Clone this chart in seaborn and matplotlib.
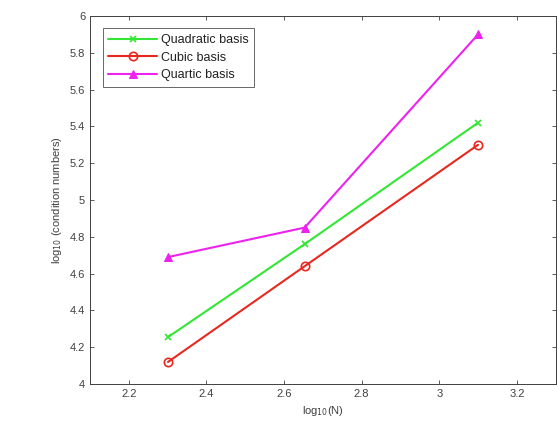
import matplotlib
matplotlib.use("Agg")
import matplotlib.pyplot as plt
import seaborn as sns
import pandas as pd

log_n = [2.301, 2.653, 3.100]
quadratic = [4.255, 4.76, 5.42]
cubic = [4.12, 4.64, 5.30]
quartic = [4.69, 4.85, 5.90]
series_names = ["Quadratic basis", "Cubic basis", "Quartic basis"]

sns.set_theme(style="white")
plt.rcParams['font.family'] = ['Liberation Sans', 'DejaVu Sans']

fig = plt.figure(figsize=(5.57, 4.32), dpi=100)
ax = fig.add_axes([0.1616, 0.111, 0.836, 0.852])

colors = ["#33e633", "#e8281e", "#ee22ee"]
markers = ["x", "o", "^"]
for name, vals, c, m in zip(series_names, [quadratic, cubic, quartic], colors, markers):
    df = pd.DataFrame({"x": log_n, "y": vals})
    kw = dict(marker=m, markersize=6, color=c, linewidth=1.5, label=name)
    if m == "o":
        kw.update(markerfacecolor="none", markeredgecolor=c, markeredgewidth=1.2)
    elif m == "x":
        kw.update(markeredgecolor=c, markeredgewidth=1.2, markersize=5)
    else:
        kw.update(markerfacecolor=c, markeredgecolor=c)
    sns.lineplot(data=df, x="x", y="y", ax=ax, **kw)

ax.set_xlim(2.1, 3.3)
ax.set_ylim(4, 6)
ax.set_xticks([2.2, 2.4, 2.6, 2.8, 3.0, 3.2])
ax.set_xticklabels(["2.2", "2.4", "2.6", "2.8", "3", "3.2"])
ax.set_yticks([4, 4.2, 4.4, 4.6, 4.8, 5, 5.2, 5.4, 5.6, 5.8, 6])
ax.set_yticklabels(["4", "4.2", "4.4", "4.6", "4.8", "5", "5.2", "5.4", "5.6", "5.8", "6"])
ax.tick_params(direction="in", length=3, labelsize=8, colors="#404040",
               top=True, right=True, bottom=True, left=True, width=0.6)
for s in ax.spines.values():
    s.set_color("#404040")
    s.set_linewidth(0.7)
ax.set_xlabel(r"log$_{10}$(N)", fontsize=8, color="#404040")
ax.set_ylabel(r"log$_{10}$ (condition numbers)", fontsize=8, color="#404040")
ax.grid(False)

leg = ax.legend(loc="upper left", fontsize=9, frameon=True, fancybox=False,
                edgecolor="#404040", borderaxespad=1.0, handlelength=3.9,
                labelspacing=0.45, borderpad=0.45, handletextpad=0.3)
leg.get_frame().set_linewidth(0.7)
for t in leg.get_texts():
    t.set_color("#202020")

fig.savefig("out.png", dpi=100)
